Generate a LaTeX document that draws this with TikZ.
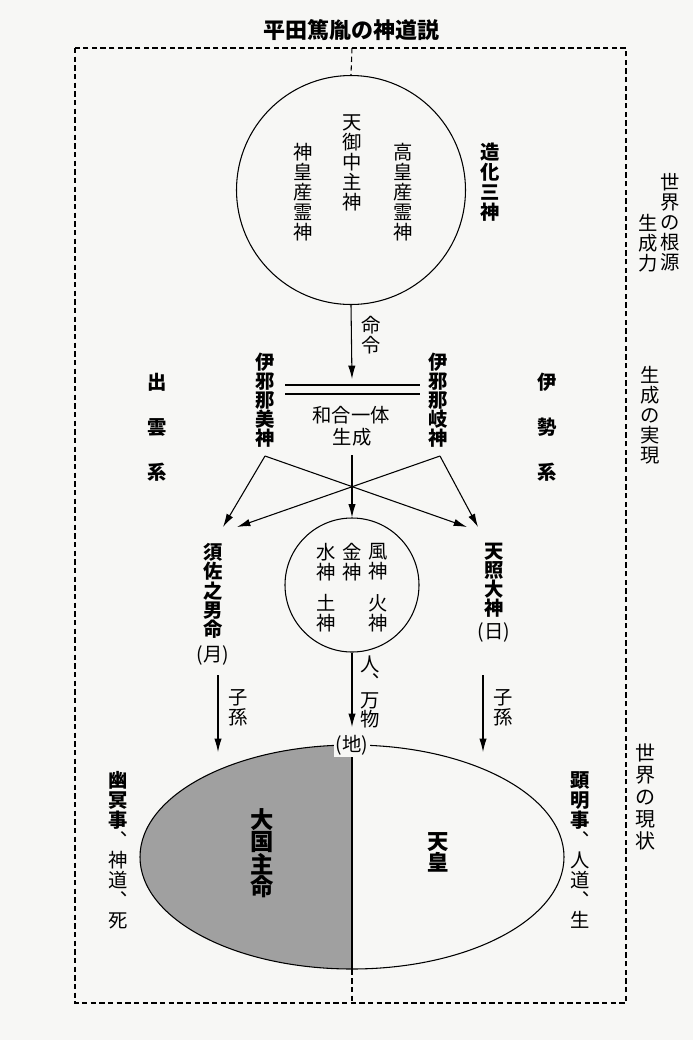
\documentclass[tikz,border=0pt]{standalone}
\usepackage{fontspec}
\newfontfamily\cjk{Noto Sans CJK JP}
\usetikzlibrary{arrows.meta,shapes.geometric}
\definecolor{paper}{RGB}{247,247,245}
\definecolor{greyfill}{RGB}{160,160,160}
\tikzset{
  vt/.style={align=center, inner sep=0pt, font=\cjk\fontsize{14.5}{15}\selectfont},
  vtb/.style={align=center, inner sep=0pt, font=\cjk\bfseries\fontsize{14.5}{14.3}\selectfont},
  hz/.style={inner sep=0pt, font=\cjk\fontsize{14.5}{16}\selectfont},
  arr/.style={line width=0.8pt, -{Latex[length=10pt,width=5.5pt]}},
  ln/.style={line width=0.8pt},
  frame/.style={line width=0.8pt, dash pattern=on 4pt off 2.5pt},
}
\begin{document}
\begin{tikzpicture}[x=0.75pt,y=-0.75pt]
\useasboundingbox (0,0) rectangle (693,1040);
\fill[paper] (0,0) rectangle (693,1040);

% title
\node[inner sep=0pt, font=\cjk\bfseries\fontsize{16.5}{18}\selectfont] (title) at (351,30) {平田篤胤の神道説};

% frame
\coordinate (f1) at (75,48);
\coordinate (f2) at (626,1003);
\draw[frame] (f1) rectangle (f2);
\coordinate (ftop) at (352,48);
\coordinate (fbot) at (352,1003);

% big circle
\node[circle, draw, line width=0.8pt, minimum size=171.75pt, inner sep=0pt] (big) at (351,190) {};
\draw[frame] (ftop) -- (big.north);
\node[vt] (ame) at (352,163) {天\\御\\中\\主\\神};
\node[vt] (kami) at (303,192) {神\\皇\\産\\霊\\神};
\node[vt] (taka) at (403,192) {高\\皇\\産\\霊\\神};
\node[vtb, font=\cjk\bfseries\fontsize{14.5}{15}\selectfont] (zoka) at (490,182) {造\\化\\三\\神};

% right side labels
\node[vt] (kongen) at (670,222) {世\\界\\の\\根\\源};
\node[vt] (seiryoku) at (648,243) {生\\成\\力};
\node[vt] (jitsugen) at (650,415) {生\\成\\の\\実\\現};
\node[vt, font=\cjk\fontsize{15}{16.5}\selectfont] (genjo) at (645,797) {世\\界\\の\\現\\状};

% command arrow
\coordinate (cmd) at (352,379);
\draw[arr] (big.south) -- (cmd);
\node[vt] (meirei) at (371,335) {命\\令};

% double line
\coordinate (d1l) at (285,385);
\coordinate (d1r) at (420,385);
\coordinate (d2l) at (285,394);
\coordinate (d2r) at (420,394);
\draw[ln] (d1l) -- (d1r);
\draw[ln] (d2l) -- (d2r);
\node[hz] (wago) at (351,415) {和合一体};
\node[hz] (seisei) at (352,437) {生成};

\node[vtb] (izanami) at (265,400) {伊\\邪\\那\\美\\神};
\node[vtb] (izanagi) at (438,400) {伊\\邪\\那\\岐\\神};

\node[vtb, font=\cjk\bfseries\fontsize{14.5}{33.75}\selectfont] (izumo) at (157,427) {出\\雲\\系};
\node[vtb, font=\cjk\bfseries\fontsize{14.5}{33.75}\selectfont] (ise) at (547,427) {伊\\勢\\系};

% crossing arrows
\coordinate (mi) at (265,456);
\coordinate (na) at (440,456);
\coordinate (gen) at (352,455);
\coordinate (s1) at (223,527);
\coordinate (s2) at (237,527);
\coordinate (a1) at (467,527);
\coordinate (a2) at (478,527);
\draw[arr] (mi) -- (s1);
\draw[arr] (na) -- (s2);
\draw[arr] (mi) -- (a1);
\draw[arr] (na) -- (a2);

% small circle
\node[circle, draw, line width=0.8pt, minimum size=100.5pt, inner sep=0pt] (small) at (352,585) {};
\draw[arr] (gen) -- (small.north);
\node[vt] (sui) at (326,562) {水\\神};
\node[vt] (kin) at (352,562) {金\\神};
\node[vt] (fu) at (378,562) {風\\神};
\node[vt] (do) at (326,613) {土\\神};
\node[vt] (ka) at (378,613) {火\\神};

\node[vtb, font=\cjk\bfseries\fontsize{14.5}{14.5}\selectfont] (susa) at (213,591) {須\\佐\\之\\男\\命};
\node[hz] (tsuki) at (213,655) {(月)};
\node[vtb, font=\cjk\bfseries\fontsize{14.5}{14.3}\selectfont] (amat) at (494,580) {天\\照\\大\\神};
\node[hz] (hi) at (494,632) {(日)};

% descent arrows
\coordinate (l1) at (218,675);
\coordinate (l2) at (218,752);
\coordinate (r1) at (483,675);
\coordinate (r2) at (483,752);
\coordinate (c2) at (352,727);
\draw[arr] (l1) -- (l2);
\draw[arr] (r1) -- (r2);
\draw[arr] (small.south) -- (c2);
\node[vt] (shison1) at (238,708) {子\\孫};
\node[vt] (shison2) at (503,708) {子\\孫};
\node[vt, font=\cjk\fontsize{14.5}{13.3}\selectfont] (hito) at (370,692) {人\\︑\\万\\物};

% ellipse
\node[ellipse, draw, line width=0.8pt, minimum width=318pt, minimum height=168pt, inner sep=0pt,
  path picture={\fill[greyfill] (path picture bounding box.south west) rectangle (path picture bounding box.north);}] (ell) at (352,857) {};
\draw[ln] (ell.north) -- (ell.south);
\draw[frame] (ell.south) -- (fbot);
\node[hz, fill=paper, inner sep=1.5pt] (chi) at (352,745) {(地)};

\node[vtb, font=\cjk\bfseries\fontsize{17.5}{16.5}\selectfont] (okuni) at (262,853) {大\\国\\主\\命};
\node[vtb, font=\cjk\bfseries\fontsize{16}{15.75}\selectfont] (tenno) at (438,852) {天\\皇};

\node[vt] (yumei) at (118,850) {\textbf{幽}\\\textbf{冥}\\\textbf{事}\\︑\\神\\道\\︑\\死};
\node[vt] (kenmei) at (580,850) {\textbf{顕}\\\textbf{明}\\\textbf{事}\\︑\\人\\道\\︑\\生};
\end{tikzpicture}
\end{document}
